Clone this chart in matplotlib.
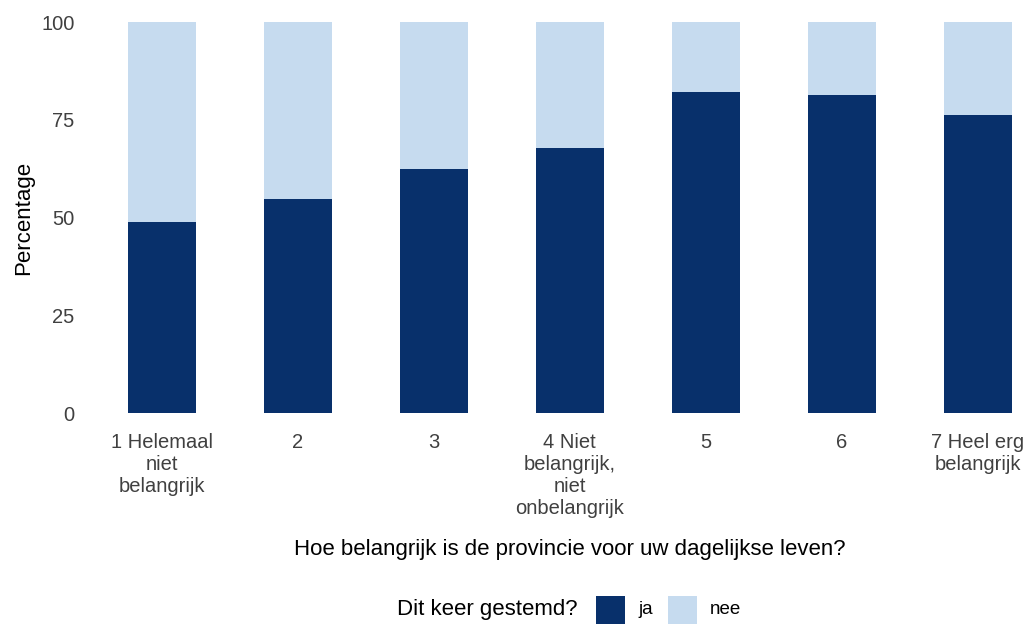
import matplotlib
matplotlib.use("Agg")
import matplotlib.pyplot as plt
from matplotlib.patches import Rectangle

plt.rcParams['font.family'] = ['Liberation Sans', 'DejaVu Sans']

categories = ["1 Helemaal\nniet\nbelangrijk", "2", "3", "4 Niet\nbelangrijk,\nniet\nonbelangrijk",
              "5", "6", "7 Heel erg\nbelangrijk"]
ja = [48.9, 54.8, 62.4, 67.9, 82.1, 81.3, 76.2]
nee = [100 - v for v in ja]
yticks = [0, 25, 50, 75, 100]
col_ja = "#08306B"
col_nee = "#C6DBEF"

W, H = 1027, 624
fig = plt.figure(figsize=(W / 100, H / 100), dpi=100)
ax = fig.add_axes([80 / W, (H - 413.3) / H, (W - 80) / W, (413.3 - 22) / H])

x = list(range(len(categories)))
ax.bar(x, ja, width=0.5, color=col_ja, linewidth=0)
ax.bar(x, nee, bottom=ja, width=0.5, color=col_nee, linewidth=0)

ax.set_xlim(-0.6, 6 + (W - 978) / 136)
ax.set_ylim(0, 100)
ax.set_yticks(yticks)
ax.set_yticklabels([str(t) for t in yticks], fontsize=14.5, color="#404040")
ax.set_xticks(x)
ax.set_xticklabels(categories, fontsize=14.5, color="#404040", linespacing=1.2)
ax.tick_params(length=0)
ax.tick_params(axis='x', pad=14)
ax.tick_params(axis='y', pad=4)
for s in ax.spines.values():
    s.set_visible(False)
ax.set_ylabel("Percentage", fontsize=16, color="black", labelpad=5)

fig.text(570 / W, 1 - 549 / H, "Hoe belangrijk is de provincie voor uw dagelijkse leven?",
         fontsize=16, ha="center", va="center")

# legend
ly = 1 - 610 / H
fig.text(578 / W, ly, "Dit keer gestemd?", fontsize=16, ha="right", va="center")
for x0, c, lab in [(596, col_ja, "ja"), (668, col_nee, "nee")]:
    fig.patches.append(Rectangle((x0 / W, 1 - 624 / H), 29 / W, 28 / H,
                                 transform=fig.transFigure, color=c, linewidth=0))
    fig.text((x0 + 42) / W, ly, lab, fontsize=13.5, ha="left", va="center")

fig.savefig("out.png", dpi=100)
